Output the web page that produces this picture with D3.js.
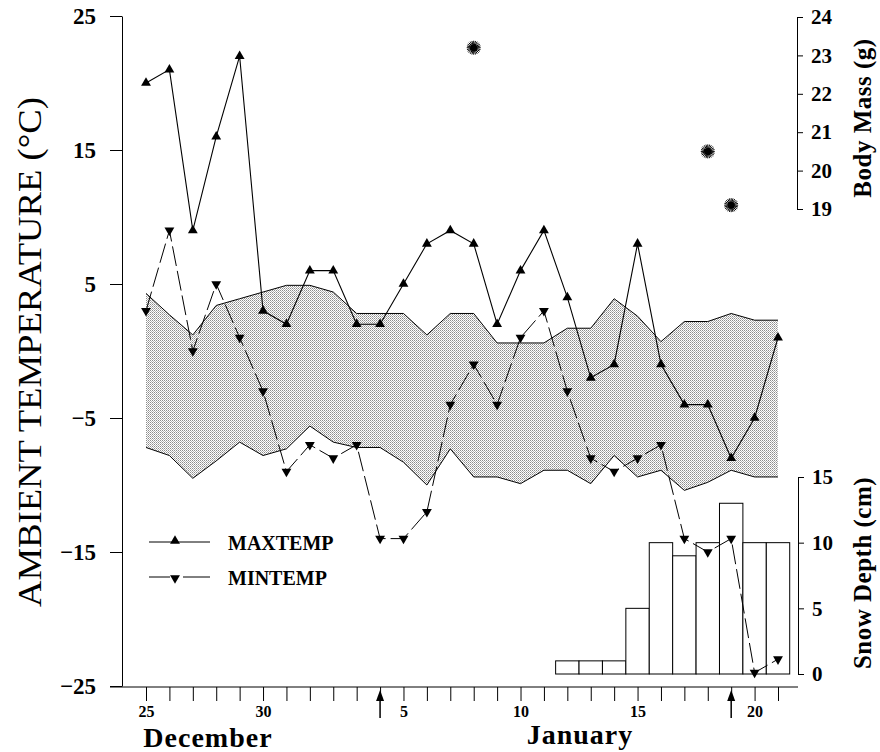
<!DOCTYPE html>
<html>
<head>
<meta charset="utf-8">
<script src="https://cdn.jsdelivr.net/npm/d3@7"></script>
<style>
  body { margin: 0; background: #fff; }
  svg text { font-family: "Liberation Serif", "Times New Roman", serif; fill: #000; }
</style>
</head>
<body>
<div class="graph"></div>
<script>
// day categories, Dec 25 .. Jan 21
var dayLabels = [25, 26, 27, 28, 29, 30, 31, 1, 2, 3, 4, 5, 6, 7, 8, 9, 10, 11, 12, 13, 14, 15, 16, 17, 18, 19, 20, 21];
var tickLabelDays = ["25", "30", "5", "10", "15", "20"];
var tickLabelIdx = [0, 5, 11, 16, 21, 26];

var maxTemp = [20, 21, 9, 16, 22, 3, 2, 6, 6, 2, 2, 5, 8, 9, 8, 2, 6, 9, 4, -2, -1, 8, -1, -4, -4, -8, -5, 1];
var minTemp = [3, 9, 0, 5, 1, -3, -9, -7, -8, -7, -14, -14, -12, -4, -1, -4, 1, 3, -3, -8, -9, -8, -7, -14, -15, -14, -24, -23];

// shaded band (upper / lower envelope)
var bandHigh = [4.3, 2.7, 1.2, 3.4, 3.9, 4.4, 4.9, 4.9, 4.4, 2.8, 2.8, 2.8, 1.2, 2.8, 2.8, 0.6, 0.6, 0.6, 1.7, 1.7, 3.9, 2.6, 0.7, 2.2, 2.2, 2.8, 2.3, 2.3];
var bandLow = [-7.2, -7.8, -9.5, -8.2, -6.8, -7.8, -7.3, -5.6, -6.8, -7.2, -7.2, -8.3, -10, -7.3, -9.4, -9.4, -9.9, -8.9, -8.9, -9.9, -7.8, -9.4, -8.9, -10.4, -9.8, -8.9, -9.4, -9.4];

// body mass (g)
var massIdx = [14, 24, 25];
var massValues = [23.2, 20.5, 19.1];

// snow depth (cm)
var snowIdx = [18, 19, 20, 21, 22, 23, 24, 25, 26, 27];
var snowValues = [1, 1, 1, 5, 10, 9, 10, 13, 10, 10];

// arrows under axis
var arrowIdx = [10, 25];

var width = 880, height = 752;

var x = d3.scaleLinear().domain([0, 27]).range([146, 778]);
var yT = d3.scaleLinear().domain([-25, 25]).range([686, 16]);
var yM = d3.scaleLinear().domain([19, 24]).range([209, 17]);
var yS = d3.scaleLinear().domain([0, 15]).range([674, 477]);

var svg = d3.select(".graph").append("svg")
  .attr("width", width)
  .attr("height", height);

var defs = svg.append("defs");
var pat = defs.append("pattern")
  .attr("id", "stipple")
  .attr("width", 2).attr("height", 2)
  .attr("patternUnits", "userSpaceOnUse");
pat.append("rect").attr("width", 2).attr("height", 2).attr("fill", "#fff");
pat.append("rect").attr("width", 1).attr("height", 1).attr("fill", "#8c8c8c");
pat.append("rect").attr("x", 1).attr("y", 1).attr("width", 1).attr("height", 1).attr("fill", "#b4b4b4");

// shaded band
var area = d3.area()
  .x(function(d, i) { return x(i); })
  .y0(function(d, i) { return yT(bandLow[i]); })
  .y1(function(d, i) { return yT(bandHigh[i]); });

svg.append("path")
  .datum(bandHigh)
  .attr("d", area)
  .attr("fill", "url(#stipple)");

var bandLine = function(arr) {
  return d3.line().x(function(d, i) { return x(i); }).y(function(d) { return yT(d); })(arr);
};
svg.append("path").attr("d", bandLine(bandHigh)).attr("fill", "none").attr("stroke", "#000").attr("stroke-width", 1);
svg.append("path").attr("d", bandLine(bandLow)).attr("fill", "none").attr("stroke", "#000").attr("stroke-width", 1);

// snow bars
var bw = x(1) - x(0);
svg.append("g").selectAll("rect")
  .data(snowValues)
  .enter().append("rect")
  .attr("x", function(d, i) { return x(snowIdx[i]) - bw / 2; })
  .attr("y", function(d) { return yS(d); })
  .attr("width", bw)
  .attr("height", function(d) { return yS(0) - yS(d); })
  .attr("fill", "#fff")
  .attr("stroke", "#000")
  .attr("stroke-width", 1);

// temperature lines
var tline = d3.line().x(function(d, i) { return x(i); }).y(function(d) { return yT(d); });

svg.append("path").datum(maxTemp).attr("d", tline)
  .attr("fill", "none").attr("stroke", "#000").attr("stroke-width", 1.1);
svg.append("path").datum(minTemp).attr("d", tline)
  .attr("fill", "none").attr("stroke", "#000").attr("stroke-width", 1)
  .attr("stroke-dasharray", "20,5");

var tri = d3.symbol().type(d3.symbolTriangle).size(42);

svg.append("g").selectAll("path")
  .data(maxTemp).enter().append("path")
  .attr("d", tri)
  .attr("transform", function(d, i) { return "translate(" + x(i) + "," + yT(d) + ")"; });

svg.append("g").selectAll("path")
  .data(minTemp).enter().append("path")
  .attr("d", tri)
  .attr("transform", function(d, i) { return "translate(" + x(i) + "," + yT(d) + ") rotate(180)"; });

// body mass starbursts
var stars = svg.append("g").selectAll("g")
  .data(massValues).enter().append("g")
  .attr("transform", function(d, i) { return "translate(" + x(massIdx[i]) + "," + yM(d) + ")"; });
stars.each(function() {
  var g = d3.select(this);
  for (var k = 0; k < 12; k++) {
    var a = k * Math.PI / 12;
    g.append("line")
      .attr("x1", -7 * Math.cos(a)).attr("y1", -7 * Math.sin(a))
      .attr("x2", 7 * Math.cos(a)).attr("y2", 7 * Math.sin(a))
      .attr("stroke", "#000").attr("stroke-width", 1);
  }
  g.append("circle").attr("r", 3.5).attr("fill", "#000");
});

// axes
var leftAxis = svg.append("g")
  .attr("transform", "translate(122,0)")
  .call(d3.axisLeft(yT).tickValues([-25, -15, -5, 5, 15, 25]).tickSize(12).tickSizeOuter(0).tickPadding(14));
leftAxis.selectAll("text").attr("font-size", 23).attr("font-weight", "bold").attr("font-family", "Liberation Serif");

var bottomAxis = svg.append("g")
  .attr("transform", "translate(0,687)")
  .call(d3.axisBottom(x).tickValues(dayLabels.map(function(d, i) { return i; })).tickSize(14).tickSizeOuter(0).tickPadding(5)
    .tickFormat(function(d) { var k = tickLabelIdx.indexOf(d); return k < 0 ? "" : tickLabelDays[k]; }));
bottomAxis.select(".domain").remove();
bottomAxis.append("line").attr("x1", 110).attr("x2", 798).attr("stroke", "#000");
bottomAxis.selectAll("text").attr("font-size", 16).attr("font-weight", "bold").attr("font-family", "Liberation Serif");

var massAxis = svg.append("g")
  .attr("transform", "translate(797,0)")
  .call(d3.axisRight(yM).ticks(5).tickSize(6).tickSizeOuter(6).tickPadding(8));
massAxis.selectAll("text").attr("font-size", 21).attr("font-weight", "bold").attr("font-family", "Liberation Serif");

var snowAxis = svg.append("g")
  .attr("transform", "translate(798,0)")
  .call(d3.axisRight(yS).tickValues([0, 5, 10, 15]).tickSize(6).tickSizeOuter(6).tickPadding(8));
snowAxis.selectAll("text").attr("font-size", 21).attr("font-weight", "bold").attr("font-family", "Liberation Serif");

svg.selectAll(".domain, .tick line").attr("stroke", "#000");

// arrows under x axis
arrowIdx.forEach(function(i) {
  var g = svg.append("g").attr("transform", "translate(" + x(i) + ",0)");
  g.append("line").attr("y1", 718).attr("y2", 698).attr("stroke", "#000").attr("stroke-width", 1.5);
  g.append("path").attr("d", "M0,690L-4,701L4,701Z").attr("fill", "#000");
});

// axis titles
svg.append("text")
  .attr("transform", "translate(41,352) rotate(-90)")
  .attr("text-anchor", "middle")
  .attr("font-size", 33)
  .attr("textLength", 510)
  .attr("lengthAdjust", "spacingAndGlyphs")
  .text("AMBIENT TEMPERATURE (°C)");

svg.append("text")
  .attr("transform", "translate(871,118) rotate(-90)")
  .attr("text-anchor", "middle")
  .attr("font-size", 25)
  .attr("font-weight", "bold")
  .attr("letter-spacing", 0.5)
  .text("Body Mass (g)");

svg.append("text")
  .attr("transform", "translate(871,573) rotate(-90)")
  .attr("text-anchor", "middle")
  .attr("font-size", 25)
  .attr("font-weight", "bold")
  .attr("letter-spacing", 0.5)
  .text("Snow Depth (cm)");

svg.append("text")
  .attr("x", 208).attr("y", 747)
  .attr("text-anchor", "middle")
  .attr("font-size", 28).attr("font-weight", "bold")
  .attr("letter-spacing", 1)
  .text("December");

svg.append("text")
  .attr("x", 580).attr("y", 744)
  .attr("text-anchor", "middle")
  .attr("font-size", 28).attr("font-weight", "bold")
  .attr("letter-spacing", 1)
  .text("January");

// legend
var legend = svg.append("g");
legend.append("line").attr("x1", 149).attr("x2", 210).attr("y1", 542).attr("y2", 542).attr("stroke", "#000");
legend.append("path").attr("d", tri).attr("transform", "translate(175,541)");
legend.append("text").attr("x", 228).attr("y", 550).attr("font-size", 20).attr("font-weight", "bold").text("MAXTEMP");

legend.append("line").attr("x1", 149).attr("x2", 170).attr("y1", 577).attr("y2", 577).attr("stroke", "#000");
legend.append("line").attr("x1", 183).attr("x2", 210).attr("y1", 577).attr("y2", 577).attr("stroke", "#000");
legend.append("path").attr("d", tri).attr("transform", "translate(175,578) rotate(180)");
legend.append("text").attr("x", 228).attr("y", 585).attr("font-size", 20).attr("font-weight", "bold").text("MINTEMP");
</script>
</body>
</html>
